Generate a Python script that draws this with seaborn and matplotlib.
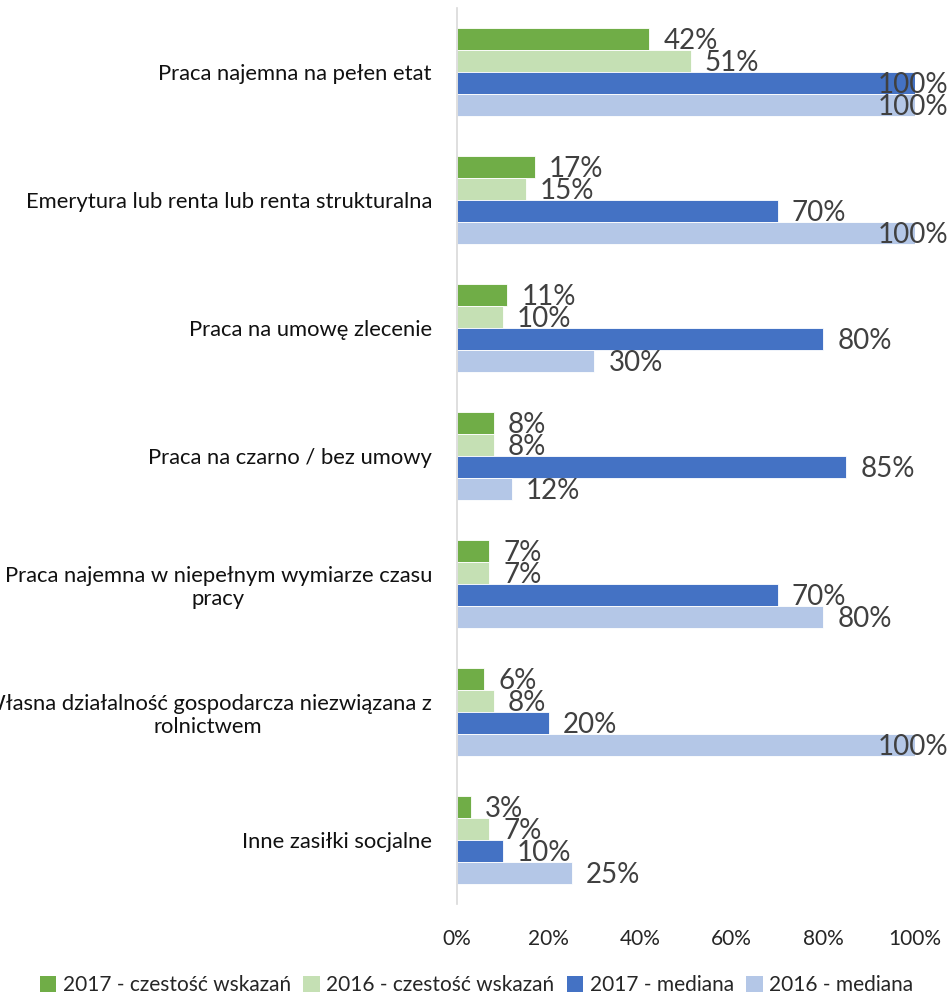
import matplotlib
matplotlib.use("Agg")
import matplotlib.pyplot as plt
import matplotlib.transforms as mtransforms
import seaborn as sns
import pandas as pd
from matplotlib.patches import Patch

categories = [
    "Praca najemna na pełen etat",
    "Emerytura lub renta lub renta strukturalna",
    "Praca na umowę zlecenie",
    "Praca na czarno / bez umowy",
    "Praca najemna w niepełnym wymiarze czasu\npracy",
    "Własna działalność gospodarcza niezwiązana z\nrolnictwem",
    "Inne zasiłki socjalne",
]
series = ["2017 - czestość wskazań", "2016 - czestość wskazań", "2017 - mediana", "2016 - mediana"]
freq_2017 = [42, 17, 11, 8, 7, 6, 3]
freq_2016 = [51, 15, 10, 8, 7, 8, 7]
med_2017 = [100, 70, 80, 85, 70, 20, 10]
med_2016 = [100, 100, 30, 12, 80, 100, 25]
x_ticks = [0, 20, 40, 60, 80, 100]
colors = ["#70AD47", "#C5E0B4", "#4472C4", "#B4C7E7"]

rows = []
for s, vals in zip(series, [freq_2017, freq_2016, med_2017, med_2016]):
    for c, v in zip(categories, vals):
        rows.append({"cat": c, "series": s, "value": v})
df = pd.DataFrame(rows)

sns.set_theme(style="white")
plt.rcParams["font.family"] = ["Lato", "DejaVu Sans"]

fig = plt.figure(figsize=(9.53, 9.98), dpi=100)
ax = fig.add_axes([457 / 953, 1 - 904 / 998, (915 - 457) / 953, (904 - 8) / 998])

sns.barplot(data=df, y="cat", x="value", hue="series", hue_order=series,
            order=categories, palette=colors, orient="h", width=0.69,
            saturation=1, edgecolor="white", linewidth=0.6, ax=ax, legend=False)

ax.set_xlim(0, 100)
ax.set_ylim(6.5, -0.5)
ax.set_xlabel("")
ax.set_ylabel("")
ax.set_xticks(x_ticks)
ax.set_xticklabels([f"{t}%" for t in x_ticks], fontsize=15, color="#262626")
ax.set_yticks(range(len(categories)))
ax.set_yticklabels(categories, fontsize=15.8, color="#111111", multialignment="center")
ax.tick_params(axis="x", length=0, pad=18)
ax.tick_params(axis="y", length=0, pad=18)
for sp in ["top", "right", "bottom"]:
    ax.spines[sp].set_visible(False)
ax.spines["left"].set_color("#d9d9d9")
ax.spines["left"].set_linewidth(1.2)

# data labels
fig.canvas.draw()
renderer = fig.canvas.get_renderer()
right_px_limit = 948
for container in ax.containers:
    for bar in container:
        w = bar.get_width()
        yc = bar.get_y() + bar.get_height() / 2
        t = ax.text(w, yc, f"{w:.0f}%", fontsize=20, color="#404040",
                    va="center", ha="left", clip_on=False)
        t.set_transform(mtransforms.offset_copy(ax.transData, fig=fig, x=14, y=-2, units="dots"))
        bb = t.get_window_extent(renderer)
        if bb.x1 > right_px_limit:
            shift = bb.x1 - right_px_limit
            t.set_transform(mtransforms.offset_copy(ax.transData, fig=fig, x=14 - shift, y=-2, units="dots"))

handles = [Patch(facecolor=c, edgecolor="none") for c in colors]
fig.legend(handles, series, loc="center", bbox_to_anchor=(0.5, 1 - 985 / 998), ncol=4,
           frameon=False, fontsize=15, handlelength=0.8, handleheight=0.8,
           handletextpad=0.3, columnspacing=0.6, borderpad=0.1)

fig.savefig("out.png", dpi=100)
